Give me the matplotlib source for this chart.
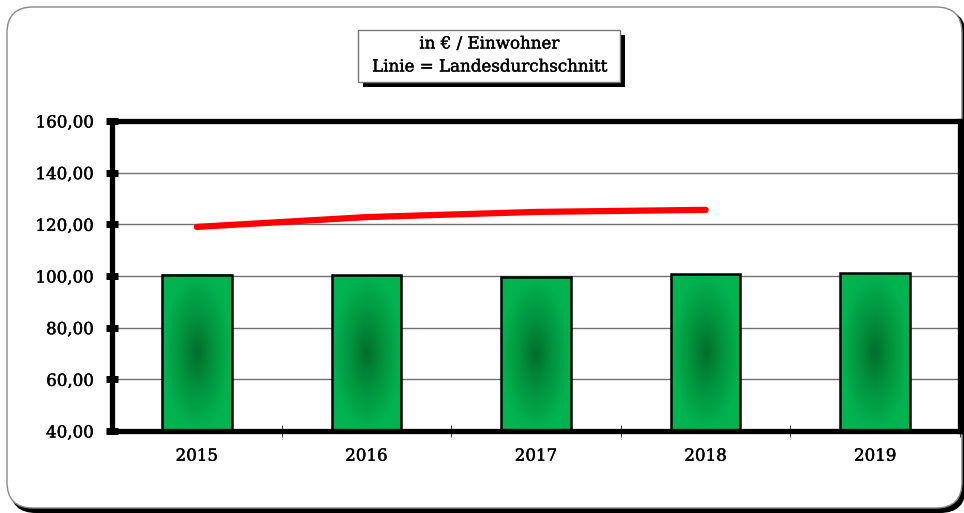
import matplotlib
matplotlib.use("Agg")
import matplotlib.pyplot as plt
import matplotlib.patheffects as pe
import numpy as np
from matplotlib.colors import LinearSegmentedColormap
from matplotlib.patches import FancyBboxPatch, Rectangle

# Data
years = ["2015", "2016", "2017", "2018", "2019"]
per_resident = [100.4, 100.3, 99.6, 100.6, 101.0]
state_average = [119.0, 122.8, 124.8, 125.6]
y_ticks = [40, 60, 80, 100, 120, 140, 160]
title_lines = ["in € / Einwohner", "Linie = Landesdurchschnitt"]

plt.rcParams['font.family'] = ['DejaVu Serif']
# slightly heavier text, closer to the original's serif face
heavy = [pe.withStroke(linewidth=0.3, foreground="black")]

W, H = 964, 513
fig = plt.figure(figsize=(W / 100, H / 100), dpi=100)

# Background frame, drawn in pixel units
bg = fig.add_axes([0, 0, 1, 1], zorder=0)
bg.set_xlim(0, W)
bg.set_ylim(H, 0)
bg.axis("off")
bg.add_patch(FancyBboxPatch((10, 10), 956, 503, boxstyle="round,pad=0,rounding_size=26",
                            facecolor="black", edgecolor="black", lw=0))
bg.add_patch(FancyBboxPatch((7, 7), 955, 501, boxstyle="round,pad=0,rounding_size=26",
                            facecolor="white", edgecolor="#8a8a8a", lw=1))

# Title box with shadow
bg.add_patch(Rectangle((363, 35), 262, 52, facecolor="black", lw=0))
bg.add_patch(Rectangle((358, 30), 262, 52, facecolor="white", edgecolor="#777777", lw=1))
bg.text(489, 44, title_lines[0], ha="center", va="center", fontsize=12, path_effects=heavy)
bg.text(489, 67, title_lines[1], ha="center", va="center", fontsize=12, path_effects=heavy)

# Main chart
ax = fig.add_axes([112 / W, 1 - 431 / H, (960 - 112) / W, (431 - 121) / H], zorder=1)
ax.patch.set_alpha(0)
x = np.arange(len(years))
bar_w = 0.41

green = LinearSegmentedColormap.from_list("g", ["#00702a", "#009640", "#00b34f"])
gy, gx = np.mgrid[-1:1:120j, -1:1:60j]
radial = np.clip(np.sqrt(gx ** 2 + gy ** 2), 0, 1)

for xi, v in zip(x, per_resident):
    ax.imshow(radial, cmap=green, extent=[xi - bar_w / 2, xi + bar_w / 2, 40, v],
              aspect="auto", origin="lower", zorder=2, interpolation="bilinear")
    ax.add_patch(Rectangle((xi - bar_w / 2, 40), bar_w, v - 40, facecolor="none",
                           edgecolor="black", lw=1.8, zorder=3))

ax.plot(x[:len(state_average)], state_average, color="red", lw=4.5,
        solid_capstyle="round", solid_joinstyle="round", zorder=4)

ax.set_xlim(-0.5, len(years) - 0.5)
ax.set_ylim(40, 160)
ax.set_yticks(y_ticks)
ax.set_yticklabels([f"{t:.2f}".replace(".", ",") for t in y_ticks], fontsize=12)
ax.set_xticks(x)
ax.set_xticklabels(years, fontsize=12)
for lbl in ax.get_xticklabels() + ax.get_yticklabels():
    lbl.set_path_effects(heavy)
ax.set_xticks(np.arange(0.5, len(years)), minor=True)
ax.tick_params(axis="x", which="major", length=0, pad=12)
ax.tick_params(axis="x", which="minor", direction="inout", length=9, width=0.7, color="#333333")
ax.tick_params(axis="y", direction="inout", length=8, width=5, pad=9)
ax.yaxis.grid(True, color="#707070", lw=1)
ax.set_axisbelow(True)
for s in ax.spines.values():
    s.set_linewidth(3.8)
    s.set_color("black")

fig.savefig("out.png", dpi=100)
